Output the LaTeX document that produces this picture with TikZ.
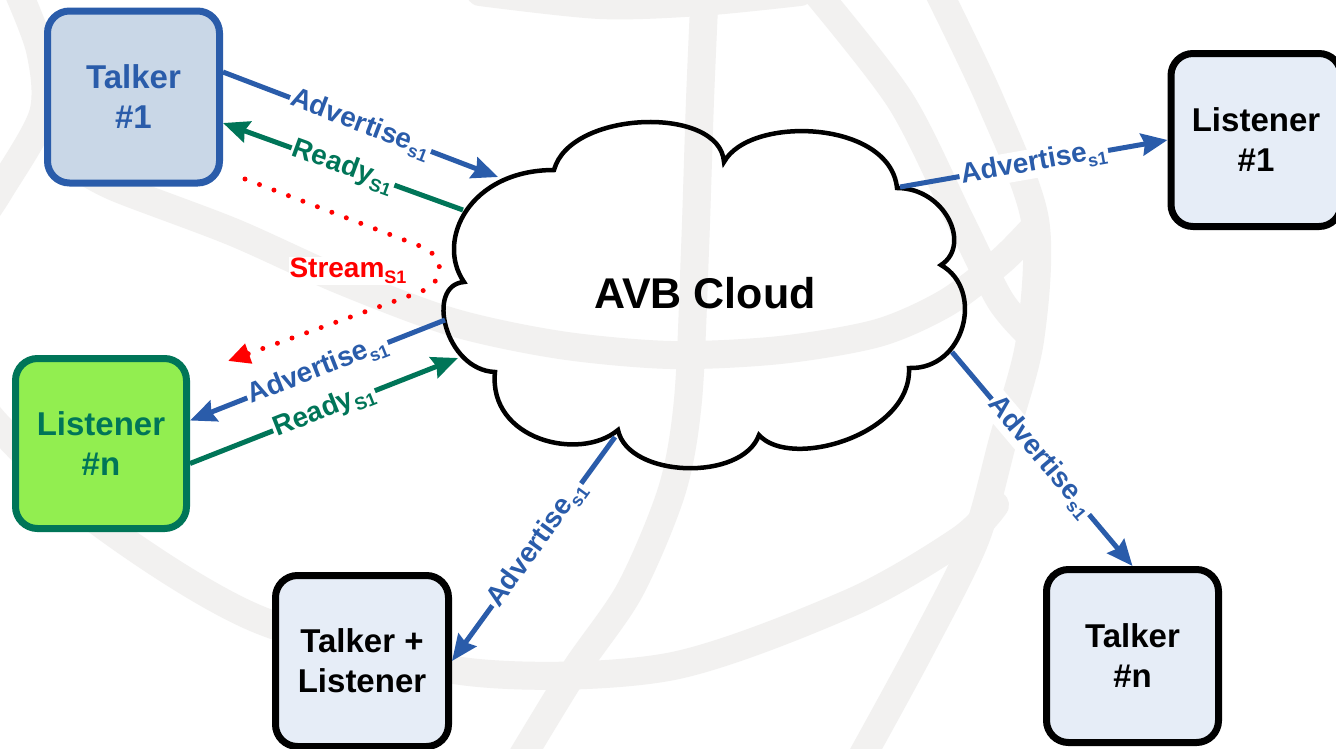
\documentclass[tikz,border=0pt]{standalone}
\usepackage{fontspec}
\setmainfont{Liberation Sans}
\usetikzlibrary{arrows.meta}
\definecolor{advblue}{HTML}{2A5CAA}
\definecolor{rdygreen}{HTML}{007558}
\definecolor{talkfill}{HTML}{C9D7E7}
\definecolor{boxfill}{HTML}{E6EDF7}
\definecolor{lnfill}{HTML}{92EE50}
\definecolor{globegrey}{HTML}{F2F1F0}
\newcommand\lblsub[1]{\raisebox{-6pt}{\fontsize{18}{18}\selectfont #1}}

\begin{document}
\begin{tikzpicture}[x=1pt,y=-1pt,
  station/.style={draw, line width=7pt, rounded corners=22pt,
    minimum width=172pt, minimum height=172pt, align=center,
    font=\fontsize{33}{40}\selectfont\bfseries, inner sep=0pt},
  band/.style={draw=globegrey, line width=28pt, line cap=round},
  flow/.style={line width=5pt, -{Stealth[length=26pt,width=22pt,inset=3pt]}},
  tag/.style={fill=white, inner sep=1.5pt, sloped,
    font=\fontsize{28}{28}\selectfont\bfseries},
]
\useasboundingbox (0,0) rectangle (1336,748);
\clip (0,0) rectangle (1336,748);
\fill[white] (0,0) rectangle (1336,748);

% faint globe watermark behind everything
\draw[band] plot[smooth] coordinates {(80,168) (117,188) (233,232) (340,280) (452,322) (560,345) (671,355) (780,350) (878,333) (946,303) (1000,262) (1030,232)};
\draw[band] plot[smooth] coordinates {(-25,395) (0,428) (100,523) (260,620) (469,672) (668,667) (850,603) (960,540) (995,505)};
\draw[band] plot[smooth] coordinates {(705,-15) (700,100) (695,250) (688,400) (672,490) (630,590) (575,670) (520,760)};
\draw[band] plot[smooth] coordinates {(935,-15) (990,100) (1035,220) (1030,340) (1003,440) (975,540) (920,650) (860,760)};
\draw[band] plot[smooth] coordinates {(810,-15) (900,100) (960,220) (1000,300) (1030,335)};
\draw[band] plot[smooth] coordinates {(15,-15) (40,50) (43,114) (0,190) (-20,220)};
\draw[band] plot[smooth] coordinates {(480,-8) (600,5) (700,2) (800,-8)};

% the cloud
\draw[line width=4.5pt, line join=miter]
  (554,170) .. controls (570,110) and (720,105) .. (724,162)
  .. controls (750,115) and (890,120) .. (897,188)
  .. controls (945,188) and (972,245) .. (941,265)
  .. controls (985,290) and (965,370) .. (909,368)
  .. controls (912,435) and (790,470) .. (759,435)
  .. controls (742,482) and (628,478) .. (618,430)
  .. controls (580,462) and (488,440) .. (495,372)
  .. controls (445,370) and (425,285) .. (464,282)
  .. controls (435,240) and (470,170) .. (554,170) -- cycle;
\node[font=\fontsize{43}{43}\selectfont\bfseries] (cloud) at (705,293) {AVB Cloud};

% attachment points on the cloud outline
\coordinate (cAdvIn) at (498,177);
\coordinate (cRdyOut) at (463,210);
\coordinate (cAdvLn) at (445,320);
\coordinate (cRdyIn) at (458,358);
\coordinate (cAdvL1) at (900,187);
\coordinate (cAdvTn) at (952,352);
\coordinate (cAdvTL) at (615,437);

% stations
\node[station, draw=advblue, fill=talkfill, text=advblue] (t1) at (133.5,97) {Talker\\\#1};
\node[station, draw=black, fill=boxfill, minimum width=170pt, minimum height=173pt] (l1) at (1256,140) {Listener\\\#1};
\node[station, draw=rdygreen, fill=lnfill, text=rdygreen, minimum width=171pt, minimum height=170pt] (ln) at (101,443.5) {Listener\\\#n};
\node[station, draw=black, fill=boxfill, minimum width=173pt, minimum height=171pt] (tl) at (362,661) {Talker +\\Listener};
\node[station, draw=black, fill=boxfill, minimum width=172pt, minimum height=173pt] (tn) at (1132.5,656) {Talker\\\#n};

% reservation messages
\draw[flow, advblue] ([yshift=25pt]t1.east) -- (cAdvIn)
  node[tag, pos=0.5, text=advblue] {Advertise\lblsub{s1}};
\draw[flow, rdygreen] (cRdyOut) -- ([yshift=-26pt]t1.east)
  node[tag, pos=0.5, text=rdygreen] {Ready\lblsub{S1}};
\draw[flow, advblue] (cAdvLn) -- ([yshift=23pt]ln.east)
  node[tag, pos=0.5, text=advblue] {Advertise\lblsub{s1}};
\draw[flow, rdygreen] ([yshift=-20pt]ln.east) -- (cRdyIn)
  node[tag, pos=0.5, text=rdygreen] {Ready\lblsub{S1}};
\draw[flow, advblue] (cAdvL1) -- (l1.west)
  node[tag, pos=0.5, text=advblue] {Advertise\lblsub{s1}};
\draw[flow, advblue] (cAdvTn) -- (tn.north)
  node[tag, pos=0.49, text=advblue] {Advertise\lblsub{s1}};
\draw[flow, advblue] (cAdvTL) -- (tl.east)
  node[tag, pos=0.48, text=advblue] {Advertise\lblsub{s1}};

% the stream itself
\coordinate (sS) at (245,179);
\coordinate (sE) at (228,361);
\draw[red, line width=5pt, line cap=round, dash pattern=on 0pt off 15.5pt,
  -{Triangle[length=22pt,width=20pt]}]
  (sS) -- (420,246) .. controls (446,256) and (446,282) .. (420,292) -- (sE);
\node[font=\fontsize{28}{28}\selectfont\bfseries, fill=white, text=red, inner sep=1pt] (stl) at (348,271) {Stream\lblsub{S1}};
\end{tikzpicture}
\end{document}
